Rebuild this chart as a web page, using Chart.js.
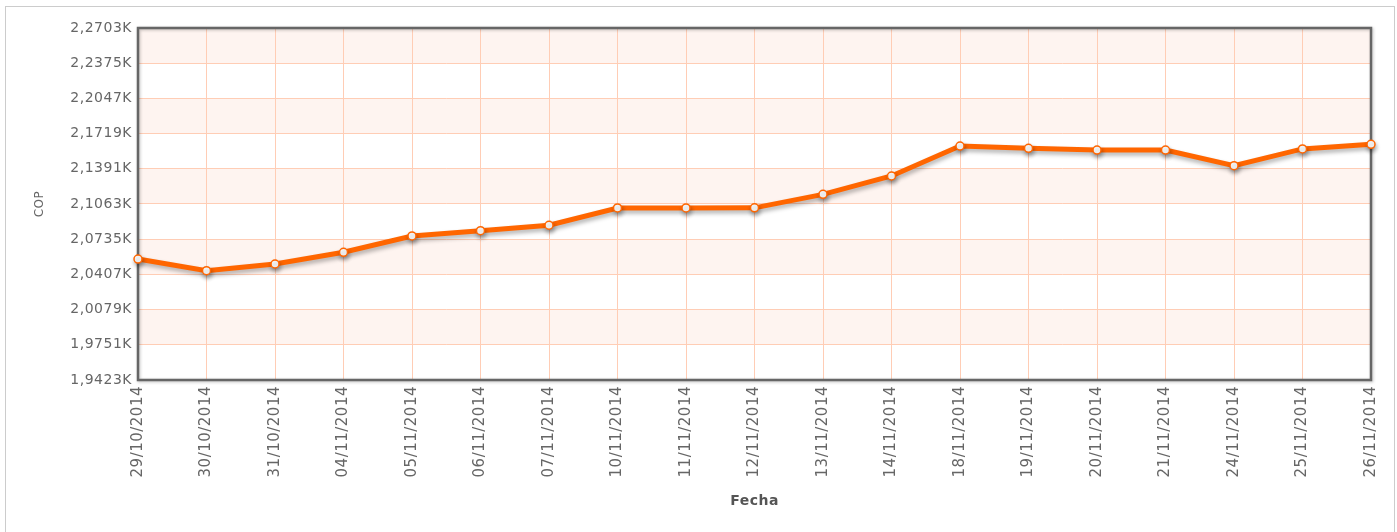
<!DOCTYPE html>
<html>
<head>
<meta charset="utf-8">
<script src="https://cdn.jsdelivr.net/npm/chart.js@4/dist/chart.umd.min.js"></script>
<style>
  html, body { margin: 0; padding: 0; background: #fff; }
  #wrap { width: 1397px; height: 532px; position: relative; }
</style>
</head>
<body>
<div id="wrap"><canvas id="myChart"></canvas></div>
<script>
// fechas y valores (COP)
var fechas = ['29/10/2014','30/10/2014','31/10/2014','04/11/2014','05/11/2014','06/11/2014','07/11/2014',
  '10/11/2014','11/11/2014','12/11/2014','13/11/2014','14/11/2014','18/11/2014','19/11/2014',
  '20/11/2014','21/11/2014','24/11/2014','25/11/2014','26/11/2014']
var valores = [2055.0, 2044.2, 2050.4, 2061.3, 2076.5, 2081.4, 2086.5,
  2102.6, 2102.6, 2102.7, 2115.3, 2132.4, 2160.3, 2158.2,
  2156.6, 2156.6, 2142.0, 2157.6, 2161.9]
var yTicks = [1942.3, 1975.1, 2007.9, 2040.7, 2073.5, 2106.3, 2139.1, 2171.9, 2204.7, 2237.5, 2270.3]

var spacing = {
  id: 'spacing',
  beforeLayout: function(chart) { chart.ctx.letterSpacing = '0.5px' },
  beforeDraw: function(chart) {
    var ctx = chart.ctx
    ctx.letterSpacing = '0.5px'
    // bandas alternas
    var y = chart.scales.y, a = chart.chartArea
    ctx.save()
    for (var i = 0; i < yTicks.length - 1; i++) {
      var top = y.getPixelForValue(yTicks[i + 1])
      var bot = y.getPixelForValue(yTicks[i])
      ctx.fillStyle = (i % 2 == 1) ? '#fef4f0' : '#ffffff'
      ctx.fillRect(a.left, top, a.right - a.left, bot - top)
    }
    ctx.restore()
  },
  beforeDatasetsDraw: function(chart) {
    var ctx = chart.ctx, a = chart.chartArea
    ctx.save()
    ctx.shadowColor = 'rgba(0,0,0,0.25)'
    ctx.shadowBlur = 3
    ctx.shadowOffsetX = 1
    ctx.shadowOffsetY = 1
    ctx.strokeStyle = '#666666'
    ctx.lineWidth = 2.5
    ctx.strokeRect(a.left, a.top, a.right - a.left, a.bottom - a.top)
    ctx.restore()
    ctx.save()
    ctx.shadowColor = 'rgba(0,0,0,0.3)'
    ctx.shadowBlur = 4
    ctx.shadowOffsetX = 1
    ctx.shadowOffsetY = 3
  },
  afterDatasetsDraw: function(chart) {
    chart.ctx.restore()
  },
  afterDraw: function(chart) {
    var ctx = chart.ctx
    ctx.save()
    ctx.strokeStyle = '#cccccc'
    ctx.lineWidth = 1
    ctx.strokeRect(5.5, 6.5, 1389, 600)
    ctx.restore()
  }
}

var chart = new Chart(document.getElementById('myChart'), {
  type: 'line',
  data: {
    labels: fechas,
    datasets: [{
      label: 'COP',
      data: valores,
      borderColor: '#ff6600',
      backgroundColor: '#ff6600',
      borderWidth: 5,
      pointRadius: 4,
      pointBorderWidth: 1.5,
      pointBackgroundColor: '#ffffff',
      pointBorderColor: '#ff6600',
      tension: 0,
      fill: false,
      clip: false
    }]
  },
  options: {
    responsive: true,
    maintainAspectRatio: false,
    animation: false,
    layout: { padding: { top: 28, right: 26, left: 0, bottom: 0 } },
    plugins: { legend: { display: false }, tooltip: { enabled: false } },
    scales: {
      x: {
        offset: false,
        grid: { color: '#ffcdb5', drawTicks: false, lineWidth: 1 },
        border: { display: false },
        ticks: {
          autoSkip: false, minRotation: 90, maxRotation: 90, padding: 6,
          color: '#666666', font: { family: 'DejaVu Sans', size: 15 }
        },
        title: {
          display: true, text: 'Fecha', color: '#555555',
          font: { family: 'DejaVu Sans', size: 14, weight: 'bold' },
          padding: { top: 0, bottom: 22 }
        },
        afterFit: function(s) { s.height = 152 }
      },
      y: {
        min: 1942.3, max: 2270.3,
        afterBuildTicks: function(s) { s.ticks = yTicks.map(function(v) { return { value: v } }) },
        grid: { color: '#ffcdb5', drawTicks: false, lineWidth: 1 },
        border: { display: false },
        ticks: {
          padding: 6, color: '#666666', font: { family: 'DejaVu Sans', size: 14 },
          callback: function(v) { return (v / 1000).toFixed(4).replace('.', ',') + 'K' }
        },
        title: {
          display: true, text: 'COP', color: '#666666',
          font: { family: 'DejaVu Sans', size: 12 },
          padding: { top: 33, bottom: 0 }
        },
        afterFit: function(s) { s.width = 138 }
      }
    }
  },
  plugins: [spacing]
})
</script>
</body>
</html>
